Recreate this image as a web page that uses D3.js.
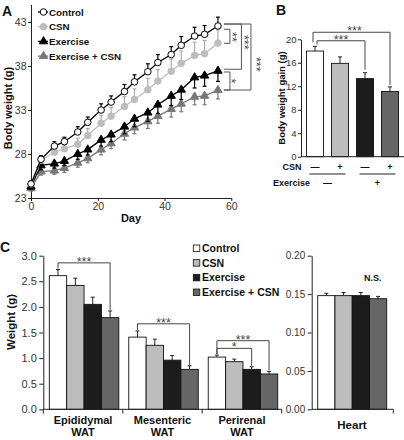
<!DOCTYPE html>
<html><head><meta charset="utf-8">
<script src="https://cdn.jsdelivr.net/npm/d3@7"></script>
<style>body{margin:0;background:#fff}svg{display:block}</style>
</head><body><svg id="c" width="404" height="440"></svg>
<script>
// ---------- DATA ----------
const seriesNames = ["Control", "CSN", "Exercise", "Exercise + CSN"];
// Panel A: body weight over time
const days = [0,3,7,10,14,17,21,24,28,31,35,38,42,45,49,52,56];
const bwControl  = [24.6,27.4,28.9,29.4,30.5,31.6,33.0,33.9,35.1,36.2,37.35,38.4,39.3,40.35,41.4,41.6,42.55];
const bwCSN      = [24.6,27.3,28.2,28.6,29.1,30.1,31.5,32.3,33.4,34.2,35.3,36.3,37.4,38.3,39.2,39.4,40.6];
const bwExercise = [24.3,26.7,26.9,27.2,28.0,28.5,29.6,30.2,31.1,32.0,32.7,33.6,34.6,35.3,36.7,36.9,37.45];
const bwExCSN    = [24.1,26.0,26.1,26.4,27.0,27.5,28.5,29.2,30.3,31.0,31.7,32.3,33.1,33.7,34.5,34.6,35.25];
const errControl  = [0.3,0.4,0.5,0.5,0.6,0.6,0.7,0.7,0.8,0.8,0.9,0.9,0.9,1.0,1.0,1.0,1.0];
const errCSN      = [0.3,0.4,0.5,0.6,0.7,0.8,0.9,1.0,1.1,1.2,1.3,1.3,1.4,1.4,1.5,1.5,1.5];
const errExercise = [0.3,0.5,0.5,0.5,0.6,0.6,0.7,0.8,0.8,0.9,1.0,1.0,1.1,1.1,1.2,1.2,1.2];
const errExCSN    = [0.3,0.4,0.4,0.5,0.5,0.5,0.6,0.6,0.7,0.7,0.8,0.8,0.9,0.9,0.9,1.0,1.0];
const dayTicks = [0,20,40,60];
const weightTicks = [23,28,33,38,43];
// Panel B: body weight gain
const gainValues = [18.0,15.9,13.3,11.1];
const gainErrors = [0.8,1.1,1.0,0.8];
const gainTicks = [0,4,8,12,16,20];
const csnSigns = ["—","+","—","+"];
const exerciseSigns = ["—","+"];
// Panel C: tissue weights
const tissueGroups = ["Epididymal|WAT","Mesenteric|WAT","Perirenal|WAT"];
const watControl  = [2.61,1.41,1.02];
const watCSN      = [2.42,1.25,0.93];
const watExercise = [2.05,0.96,0.78];
const watExCSN    = [1.79,0.78,0.69];
const watErrControl  = [0.12,0.12,0.04];
const watErrCSN      = [0.14,0.12,0.05];
const watErrExercise = [0.14,0.09,0.05];
const watErrExCSN    = [0.13,0.07,0.05];
const watTicks = [0,0.5,1,1.5,2,2.5,3];
const heartValues = [0.148,0.148,0.148,0.144];
const heartErrors = [0.003,0.004,0.004,0.003];
const heartTicks = [0,0.05,0.1,0.15,0.2];

// ---------- STYLE ----------
const FF = '"Liberation Sans", Arial, Helvetica, sans-serif';
const barFills = ["#ffffff","#bdbdbd","#1c1c1c","#666666"];
const svg = d3.select("#c").attr("font-family", FF);
svg.append("defs").append("filter").attr("id","gs")
  .append("feColorMatrix").attr("type","saturate").attr("values","0");
svg.append("rect").attr("width",404).attr("height",440).attr("fill","#fff");

function styleAxis(g, fs){
  g.attr("font-family", FF);
  g.select(".domain").attr("stroke","#222").attr("stroke-width",1);
  g.selectAll(".tick line").attr("stroke","#222");
  g.selectAll(".tick text").attr("font-size",fs).attr("fill","#333");
}
function label(x,y,txt,fs,opts={}){
  const t = svg.append("text").attr("x",x).attr("y",y).text(txt)
    .attr("font-size",fs).attr("font-weight",opts.weight||"bold")
    .attr("fill",opts.fill||"#111").attr("text-anchor",opts.anchor||"start");
  if(opts.rotate) t.attr("transform",`rotate(${opts.rotate},${x},${y})`);
  return t;
}
function stars(x,lineY,txt){
  return svg.append("text").attr("x",x).attr("y",lineY+3).text(txt)
    .attr("font-size",12.5).attr("fill","#444").attr("text-anchor","middle");
}
// vertical stars, glyph centre at (xc, yc)
const vStarLayer = svg.append("g").attr("filter","url(#gs)");
function vstars(xc,yc,txt){
  const x = xc-7.2;
  return vStarLayer.append("text").attr("x",x).attr("y",yc).text(txt)
    .attr("font-size",12.5).attr("fill","#444").attr("text-anchor","middle")
    .attr("transform",`rotate(90,${x},${yc})`);
}
function seg(x1,y1,x2,y2,col="#444",w=1){
  svg.append("line").attr("x1",x1).attr("y1",y1).attr("x2",x2).attr("y2",y2)
    .attr("stroke",col).attr("stroke-width",w);
}

// ---------- PANEL A ----------
const xA = d3.scaleLinear().domain([0,60]).range([31,231.3]);
const yA = d3.scaleLinear().domain([23,45]).range([198,4.4]);
svg.append("g").attr("transform","translate(0,198)")
  .call(d3.axisBottom(xA).tickValues(dayTicks).tickSize(3).tickPadding(2).tickSizeOuter(0))
  .call(styleAxis,10.5);
svg.append("g").attr("transform","translate(31,0)")
  .call(d3.axisLeft(yA).tickValues(weightTicks).tickSize(3).tickPadding(1.5).tickSizeOuter(0))
  .call(styleAxis,10.5);

const seriesA = [
  {values:bwControl, err:errControl, dir:1, line:"#000", fill:"#fff", stroke:"#000", ecol:"#000", sym:d3.symbolCircle, size:34},
  {values:bwCSN, err:errCSN, dir:1, line:"#bdbdbd", fill:"#bdbdbd", stroke:"#bdbdbd", ecol:"#aaa", sym:d3.symbolCircle, size:34},
  {values:bwExercise, err:errExercise, dir:-1, line:"#000", fill:"#000", stroke:"#000", ecol:"#000", sym:d3.symbolTriangle, size:30},
  {values:bwExCSN, err:errExCSN, dir:-1, line:"#777", fill:"#777", stroke:"#777", ecol:"#777", sym:d3.symbolTriangle, size:30}
];
const lineA = d3.line().x((d,i)=>xA(days[i])).y(d=>yA(d));
seriesA.slice().reverse().forEach(s=>{
  const g = svg.append("g");
  s.values.forEach((v,i)=>{
    const x = xA(days[i]), y1 = yA(v + s.dir*s.err[i]);
    g.append("line").attr("x1",x).attr("x2",x).attr("y1",yA(v)).attr("y2",y1).attr("stroke",s.ecol).attr("stroke-width",1.2);
    g.append("line").attr("x1",x-2).attr("x2",x+2).attr("y1",y1).attr("y2",y1).attr("stroke",s.ecol).attr("stroke-width",1.2);
  });
  g.append("path").datum(s.values).attr("d",lineA).attr("fill","none").attr("stroke",s.line).attr("stroke-width",1.3);
  g.selectAll("path.m").data(s.values).join("path").attr("class","m")
    .attr("transform",(d,i)=>`translate(${xA(days[i])},${yA(d)})`)
    .attr("d",d3.symbol(s.sym,s.size)).attr("fill",s.fill).attr("stroke",s.stroke).attr("stroke-width",1);
});
// legend A
seriesNames.forEach((n,i)=>{
  const s = seriesA[i], cy = 12 + i*14.7;
  seg(38,cy,48,cy,s.line,1.3);
  svg.append("path").attr("transform",`translate(43.5,${cy})`).attr("d",d3.symbol(s.sym,s.size))
    .attr("fill",s.fill).attr("stroke",s.stroke);
  label(49,cy+3.6,n,9.8);
});
// brackets A
const bx0 = xA(56)+6;
[[42.17,40.58,bx0+6],[42.77,37.63,bx0+17.5],[42.77,35.27,bx0+27],[37.32,35.27,bx0+6]].forEach(b=>{
  seg(bx0,yA(b[0]),b[2],yA(b[0]),"#555");
  seg(b[2],yA(b[0]),b[2],yA(b[1]),"#555");
  seg(bx0,yA(b[1]),b[2],yA(b[1]),"#555");
});
vStarLayer.raise();
vstars(bx0+11,yA(41.3),"**");
vstars(bx0+23,yA(40.7),"***");
vstars(bx0+35.5,yA(38.2),"***");
vstars(bx0+10,yA(36.3),"*");
label(131,222,"Day",11,{anchor:"middle"});
label(12,108,"Body weight (g)",11,{anchor:"middle",rotate:-90});
label(2,16,"A",14);

// ---------- PANEL B ----------
const xB = d3.scaleBand().domain(d3.range(4)).range([302.5,402.5]).paddingInner(0.32).paddingOuter(0.16);
const yB = d3.scaleLinear().domain([0,20]).range([156.7,39.3]);
svg.append("g").attr("transform","translate(301,0)")
  .call(d3.axisLeft(yB).tickValues(gainTicks).tickSize(3).tickPadding(1.5).tickSizeOuter(0))
  .call(styleAxis,9.5);
gainValues.forEach((v,i)=>{
  const x = xB(i), w = xB.bandwidth(), cx = x+w/2, ye = yB(v+gainErrors[i]);
  seg(cx,yB(v),cx,ye,"#222",1); seg(cx-2,ye,cx+2,ye,"#222",1);
  svg.append("rect").attr("x",x).attr("y",yB(v)).attr("width",w).attr("height",yB(0)-yB(v))
    .attr("fill",barFills[i]).attr("stroke","#111").attr("stroke-width",0.9);
});
seg(301,156.7,404,156.7,"#222");
const cB = i => xB(i)+xB.bandwidth()/2;
// brackets B
{ const yo = yB(21.2), yi = yB(19.75);
  seg(cB(0)-2,yo,cB(3),yo); seg(cB(0)-2,yo,cB(0)-2,yB(gainValues[0]+gainErrors[0])-4); seg(cB(3),yo,cB(3),yB(gainValues[3]+gainErrors[3])-2);
  stars((cB(0)+cB(3))/2+2,yo,"***");
  seg(cB(0)+2,yi,cB(2),yi); seg(cB(0)+2,yi,cB(0)+2,yB(gainValues[0]+gainErrors[0])-2); seg(cB(2),yi,cB(2),yB(gainValues[2]+gainErrors[2])-3);
  stars((cB(0)+cB(2))/2+1,yi,"***");
}
label(301.5,170,"CSN",9,{anchor:"end"});
csnSigns.forEach((s,i)=>label(cB(i),170,s,9,{anchor:"middle"}));
[[0,1],[2,3]].forEach((p,j)=>{
  const m = (cB(p[0])+cB(p[1]))/2;
  seg(m-18,174,m+18,174,"#222");
  label(m,186,exerciseSigns[j],9,{anchor:"middle"});
});
label(310,186,"Exercise",9,{anchor:"end"});
label(285,98,"Body weight gain (g)",9.5,{anchor:"middle",rotate:-90});
label(276,15,"B",14);

// ---------- PANEL C ----------
const xC = d3.scaleBand().domain(tissueGroups).range([43.3,281.7]);
const xCi = d3.scaleBand().domain(d3.range(4)).range([6,75.5]);
const yC = d3.scaleLinear().domain([0,3]).range([409.3,255.7]);
svg.append("g").attr("transform","translate(43.3,0)")
  .call(d3.axisLeft(yC).tickValues(watTicks).tickSize(4).tickPadding(2.5).tickSizeOuter(0))
  .call(styleAxis,11);
const watSeries = [watControl,watCSN,watExercise,watExCSN];
const watErrs = [watErrControl,watErrCSN,watErrExercise,watErrExCSN];
tissueGroups.forEach((gName,gi)=>{
  watSeries.forEach((arr,si)=>{
    const v = arr[gi], x = xC(gName)+xCi(si), w = xCi.bandwidth(), cx = x+w/2, ye = yC(v+watErrs[si][gi]);
    seg(cx,yC(v),cx,ye,"#222",1); seg(cx-2,ye,cx+2,ye,"#222",1);
    svg.append("rect").attr("x",x).attr("y",yC(v)).attr("width",w).attr("height",yC(0)-yC(v))
      .attr("fill",barFills[si]).attr("stroke","#111").attr("stroke-width",0.9);
  });
  gName.split("|").forEach((l,k)=>{
    label(xC(gName)+xC.bandwidth()/2, 423.5+k*12.5, l, 11, {anchor:"middle"});
  });
});
seg(43.3,409.3,281.7,409.3,"#222");
xC.domain().concat(["end"]).forEach((g,i)=>{
  const x = i<3 ? xC(g) : 281.7;
  seg(x,409.3,x,413.5,"#222");
});
const cC = (gi,si) => xC(tissueGroups[gi])+xCi(si)+xCi.bandwidth()/2;
const topC = (gi,si) => yC(watSeries[si][gi]+watErrs[si][gi]);
function bracketC(gi,s1,s2,val,lab){
  const y = yC(val);
  seg(cC(gi,s1),y,cC(gi,s2),y);
  seg(cC(gi,s1),y,cC(gi,s1),topC(gi,s1)-1);
  seg(cC(gi,s2),y,cC(gi,s2),topC(gi,s2)-1);
  stars((cC(gi,s1)+cC(gi,s2))/2,y,lab);
}
bracketC(0,0,3,2.86,"***");
bracketC(1,0,3,1.67,"***");
bracketC(2,0,3,1.34,"***");
bracketC(2,0,2,1.19,"*");
// legend C
seriesNames.forEach((n,i)=>{
  const cy = 248.3 + i*14.67;
  svg.append("rect").attr("x",193.3).attr("y",cy-3.3).attr("width",6.5).attr("height",6.5)
    .attr("fill",barFills[i]).attr("stroke","#111").attr("stroke-width",0.8);
  label(202,cy+3.8,n,10.5);
});
label(15,322,"Weight (g)",11.5,{anchor:"middle",rotate:-90});
label(0,252,"C",14);

// Heart
const xH = d3.scaleBand().domain(d3.range(4)).range([317.7,386.7]);
const yH = d3.scaleLinear().domain([0,0.2]).range([409.3,255.7]);
svg.append("g").attr("transform","translate(311.7,0)")
  .call(d3.axisLeft(yH).tickValues(heartTicks).tickSize(4).tickPadding(2.5).tickSizeOuter(0))
  .call(styleAxis,10);
heartValues.forEach((v,i)=>{
  const x = xH(i), w = xH.bandwidth(), cx = x+w/2, ye = yH(v+heartErrors[i]);
  seg(cx,yH(v),cx,ye,"#222",1); seg(cx-2,ye,cx+2,ye,"#222",1);
  svg.append("rect").attr("x",x).attr("y",yH(v)).attr("width",w).attr("height",yH(0)-yH(v))
    .attr("fill",barFills[i]).attr("stroke","#111").attr("stroke-width",0.9);
});
seg(311.7,409.3,393.3,409.3,"#222");
seg(393.3,409.3,393.3,413.5,"#222");
label(352,429,"Heart",11.5,{anchor:"middle"});
label(372.7,281,"N.S.",9,{anchor:"middle"});
</script></body></html>
